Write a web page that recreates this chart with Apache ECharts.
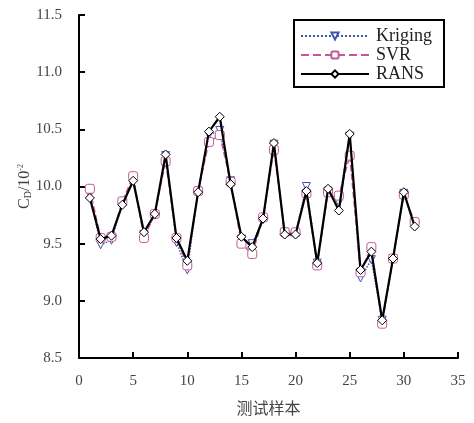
<!DOCTYPE html>
<html><head><meta charset="utf-8">
<script src="https://cdn.jsdelivr.net/npm/echarts@6/dist/echarts.min.js"></script>
<style>html,body{margin:0;padding:0;background:#fff}#c{width:474px;height:423px}</style>
</head><body><div id="c"></div>
<script>
const samples = [1,2,3,4,5,6,7,8,9,10,11,12,13,14,15,16,17,18,19,20,21,22,23,24,25,26,27,28,29,30,31];
const kriging = [9.93,9.49,9.53,9.85,10.05,9.58,9.75,10.27,9.51,9.27,9.96,10.45,10.49,10.05,9.54,9.50,9.71,10.37,9.60,9.59,10.00,9.33,9.96,9.86,10.44,9.20,9.36,8.83,9.37,9.94,9.66];
const svr =     [9.98,9.55,9.56,9.87,10.09,9.55,9.76,10.22,9.55,9.31,9.96,10.39,10.45,10.04,9.50,9.41,9.73,10.32,9.60,9.60,9.94,9.31,9.95,9.92,10.27,9.25,9.47,8.80,9.37,9.93,9.69];
const rans =    [9.90,9.54,9.57,9.84,10.05,9.60,9.76,10.28,9.55,9.35,9.95,10.48,10.61,10.02,9.56,9.47,9.72,10.38,9.58,9.58,9.96,9.33,9.98,9.79,10.46,9.27,9.43,8.83,9.37,9.95,9.65];
const xTicks = {min:0, max:35, interval:5};
const yTicks = {min:8.5, max:11.5, interval:0.5};

const pair = arr => samples.map((s,i)=>[s, arr[i]]);
const serif = 'Liberation Serif';
const chart = echarts.init(document.getElementById('c'), null, {renderer:'canvas'});
chart.setOption({
  animation:false,
  backgroundColor:'#fff',
  grid:{left:79, right:16, top:15, bottom:65, containLabel:false},
  legend:{
    orient:'vertical', left:294, top:20, padding:[7,12,4,6],
    borderColor:'#000', borderWidth:2, itemGap:1, itemWidth:68, itemHeight:9,
    textStyle:{fontFamily:serif, fontSize:18, color:'#222', padding:[0,0,0,2], lineHeight:15},
    data:['Kriging','SVR','RANS']
  },
  xAxis:{
    type:'value', min:xTicks.min, max:xTicks.max, interval:xTicks.interval,
    name:'测试样本', nameLocation:'middle', nameGap:42, nameMoveOverlap:false,
    nameTextStyle:{fontFamily:'Noto Sans CJK SC', fontSize:16, color:'#444'},
    axisLine:{lineStyle:{color:'#000', width:2}},
    axisTick:{inside:true, length:6, lineStyle:{color:'#000', width:2}},
    axisLabel:{fontFamily:serif, fontSize:15, color:'#444', margin:16},
    splitLine:{show:false}
  },
  yAxis:{
    type:'value', min:yTicks.min, max:yTicks.max, interval:yTicks.interval,
    name:'{c|C}{s|D}{c|/10}{p|-2}', nameLocation:'middle', nameGap:46, nameRotate:90, nameMoveOverlap:false,
    nameTextStyle:{rich:{
      c:{fontFamily:serif, fontSize:16, color:'#444'},
      s:{fontFamily:serif, fontSize:10, color:'#444', verticalAlign:'bottom', padding:[6,0,0,0]},
      p:{fontFamily:serif, fontSize:8, color:'#444', verticalAlign:'top', padding:[0,0,8,0]}
    }},
    axisLine:{show:true, lineStyle:{color:'#000', width:2}},
    axisTick:{show:true, inside:true, length:6, lineStyle:{color:'#000', width:2}},
    axisLabel:{fontFamily:serif, fontSize:15, color:'#444', margin:17, formatter:v=>v.toFixed(1)},
    splitLine:{show:false}
  },
  series:[
    {name:'Kriging', type:'line', data:pair(kriging), symbol:'triangle', symbolRotate:180, symbolSize:8,
     lineStyle:{color:'#3e55b0', width:1.5, type:'dotted'},
     itemStyle:{color:'#fff', borderColor:'#3e55b0', borderWidth:1}, z:2},
    {name:'SVR', type:'line', data:pair(svr), symbol:'roundRect', symbolSize:9,
     lineStyle:{color:'#c45a95', width:1.5, type:'dashed'},
     itemStyle:{color:'#fff', borderColor:'#c45a95', borderWidth:1}, z:3},
    {name:'RANS', type:'line', data:pair(rans), symbol:'diamond', symbolSize:9,
     lineStyle:{color:'#000', width:2.2},
     itemStyle:{color:'#fff', borderColor:'#000', borderWidth:1}, z:4}
  ]
});
</script>
</body></html>
